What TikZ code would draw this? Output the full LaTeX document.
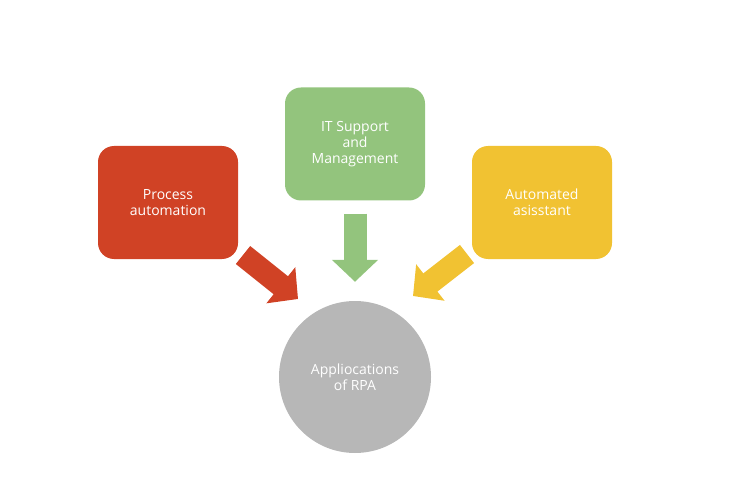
\documentclass[tikz,border=0pt]{standalone}
\usepackage{fontspec}
\setmainfont{Open Sans}
\usetikzlibrary{arrows.meta}
\definecolor{procred}{RGB}{208,66,37}
\definecolor{itgreen}{RGB}{147,196,125}
\definecolor{asstyellow}{RGB}{241,194,50}
\definecolor{appgray}{RGB}{183,183,183}

\begin{document}
\begin{tikzpicture}[x=1pt,y=-1pt]
\tikzstyle{box}=[rounded corners=16pt,minimum width=140pt,minimum height=113pt,align=center,text=white,font=\fontsize{14}{16}\selectfont];
\tikzstyle{hub}=[circle,minimum size=152pt,fill=appgray,align=center,text=white,font=\fontsize{14}{16}\selectfont];
\tikzstyle{fat}=[line width=23pt,-{Triangle[length=22pt,width=45pt]}];
\useasboundingbox (0,0) rectangle (730,478);
\node [box,fill=procred] (proc) at (168,202.5) {Process\\automation};
\node [box,fill=itgreen] (it) at (355,144) {IT Support\\and\\Management};
\node [box,fill=asstyellow] (asst) at (542,202.5) {Automated\\asisstant};
\node [hub] (app) at (355,377) {Appliocations\\of RPA};

\coordinate (t1) at (243,255);
\coordinate (h1) at (298,299);
\coordinate (t3) at (467,254);
\coordinate (h3) at (413,296);

\draw [fat,procred] (t1) -- (h1);
\draw [fat,itgreen,shorten <=13pt,shorten >=19pt] (it) -- (app);
\draw [fat,asstyellow] (t3) -- (h3);
\end{tikzpicture}
\end{document}
